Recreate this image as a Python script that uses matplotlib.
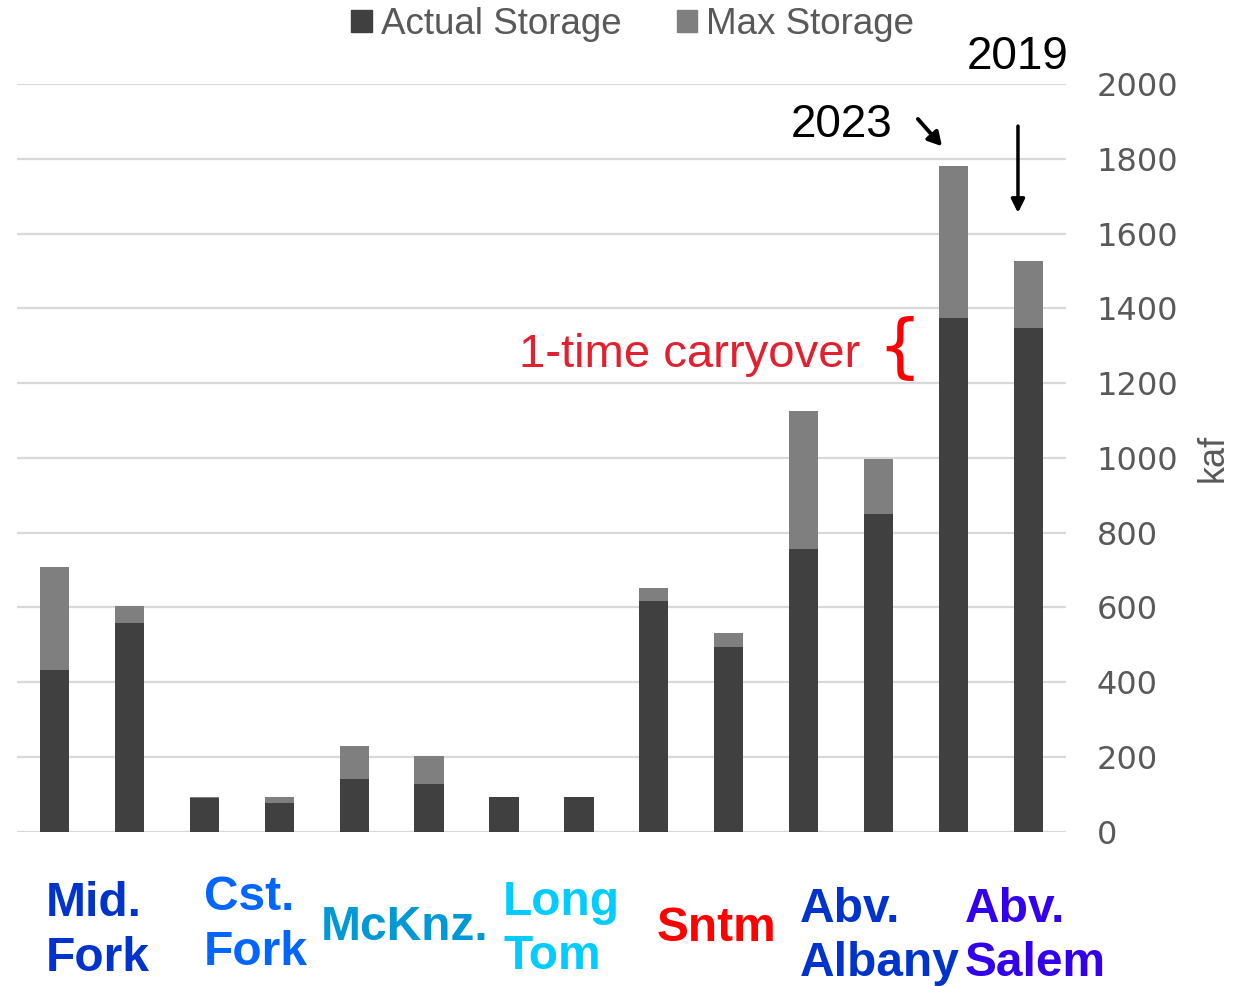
import numpy as np
import matplotlib
matplotlib.use('Agg')
import matplotlib.pyplot as plt
from matplotlib.patches import Patch

# data (kaf)
stations = ['Mid. Fork', 'Cst. Fork', 'McKnz.', 'Long Tom', 'Sntm', 'Abv. Albany', 'Abv. Salem']
actual_storage = [433, 557, 89, 76, 140, 128, 94, 94, 618, 494, 755, 851, 1373, 1346]
max_storage = [708, 604, 94, 94, 229, 203, 94, 94, 653, 532, 1124, 997, 1780, 1527]
yticks = [0, 200, 400, 600, 800, 1000, 1200, 1400, 1600, 1800, 2000]

# label text and colours, one per pair of bars
label_text = ['Mid.\nFork', 'Cst.\nFork', 'McKnz.', 'Long\nTom', 'Sntm', 'Abv.\nAlbany', 'Abv.\nSalem']
label_colors = ['#0033CC', '#0066FF', '#0099D6', '#00CCFF', '#FF0000', '#0033CC', '#3300EE']
label_x = [-0.12, 1.99, 3.55, 5.99, 8.04, 9.95, 12.15]
label_y = [-0.133, -0.125, -0.128, -0.131, -0.129, -0.140, -0.140]

dark = '#404040'
gray = '#7f7f7f'
text_gray = '#595959'

fig = plt.figure(figsize=(12.48, 9.86), dpi=100)
ax = fig.add_axes([0.0136, 0.1565, 0.8405, 0.7583])

x = np.arange(len(actual_storage))
ax.bar(x, max_storage, width=0.39, color=gray, zorder=2)
ax.bar(x, actual_storage, width=0.39, color=dark, zorder=3)

ax.set_xlim(-0.5, 13.5)
ax.set_ylim(0, 2000)
ax.set_yticks(yticks)
ax.yaxis.tick_right()
ax.tick_params(axis='y', length=0, pad=22, labelsize=23, labelcolor=text_gray,
               labelfontfamily='DejaVu Sans')
ax.set_xticks([])
for lbl in ax.get_yticklabels():
    lbl.set_horizontalalignment('left')
ax.grid(axis='y', color='#d9d9d9', linewidth=1.6, zorder=0)
for s in ax.spines.values():
    s.set_visible(False)

ax.text(1.14, 0.5, 'kaf', transform=ax.transAxes, rotation=90, fontsize=26,
        color=text_gray, ha='center', va='center', family='Liberation Sans')

# category labels under the bars
for t, c, lx, ly in zip(label_text, label_colors, label_x, label_y):
    ax.text(lx, ly, t, transform=ax.get_xaxis_transform(), color=c, fontsize=34.5,
            fontweight='bold', family='Liberation Sans', ha='left', va='center',
            linespacing=1.27, clip_on=False)

# legend
handles = [Patch(color=dark, label='Actual Storage'), Patch(color=gray, label='Max Storage')]
fig.legend(handles=handles, loc='center', bbox_to_anchor=(0.507, 0.975), ncol=2,
           frameon=False, handlelength=0.55, handleheight=0.55,
           handletextpad=0.25, columnspacing=1.5, labelcolor=text_gray,
           prop={'family': 'Liberation Sans', 'size': 26.5})

# annotations
ax.text(12.85, 2071, '2019', fontsize=33, ha='center', va='center',
        family='Liberation Sans', clip_on=False)
ax.text(10.5, 1890, '2023', fontsize=33, ha='center', va='center',
        family='Liberation Sans')
ax.annotate('', xy=(11.87, 1828), xytext=(11.5, 1912),
            arrowprops=dict(arrowstyle='-|>,head_length=0.8,head_width=0.45', color='black', lw=2.8))
ax.annotate('', xy=(12.86, 1648), xytext=(12.86, 1895),
            arrowprops=dict(arrowstyle='-|>,head_length=0.8,head_width=0.4', color='black', lw=2.5))
ax.text(10.75, 1276, '1-time carryover', fontsize=34, color='#E3202F', ha='right',
        va='center', family='Liberation Sans')
ax.text(11.28, 1290, '{', fontsize=50, color='#FF0000', ha='center', va='center',
        family='DejaVu Sans')

fig.savefig('out.png', dpi=100)
